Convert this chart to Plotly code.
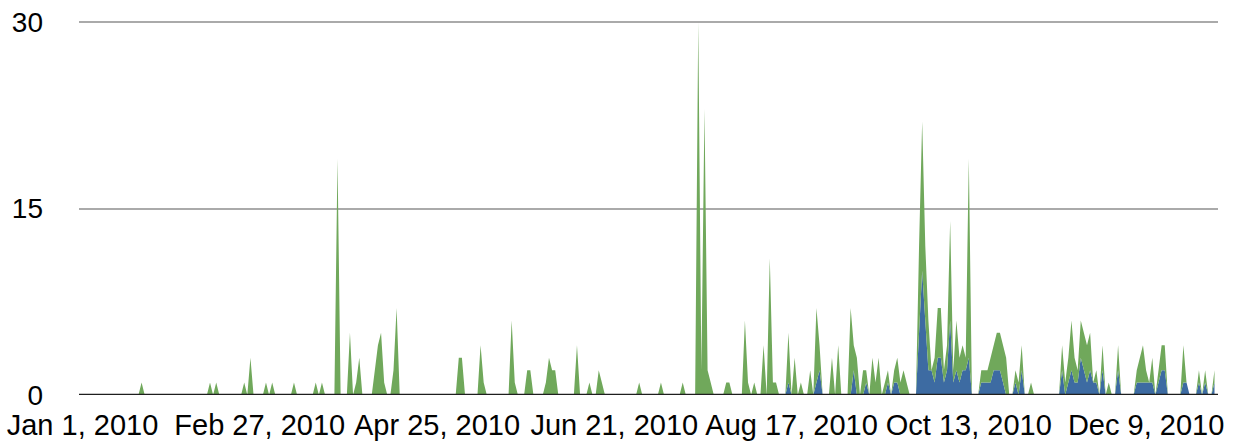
import numpy as np
import pandas as pd
import plotly.graph_objects as go

# ---- data (day offsets from Jan 1, 2010) ----
green_days = [19, 41, 43, 52, 54, 59, 61, 68, 75, 77, 82, 86, 88, 89, 94, 95, 96, 97, 100, 101,
              121, 122, 128, 129, 138, 139, 143, 144, 149, 150, 151, 152, 159, 163, 166, 167,
              179, 186, 193, 198, 199, 200, 201, 202, 207, 208, 213, 214, 216, 219, 221, 222, 223,
              227, 229, 231, 234, 236, 237, 241, 243, 247, 248, 249, 251, 252, 254, 255, 256, 258,
              259, 261, 262, 263, 264, 265, 269, 270, 271, 272, 274, 275, 276, 277, 278, 279, 280,
              281, 282, 283, 284, 285, 289, 290, 291, 292, 293, 294, 295, 296, 297, 300, 301, 302,
              305, 315, 316, 317, 318, 319, 320, 321, 322, 323, 324, 326, 328, 330, 333, 339, 340,
              341, 342, 344, 346, 347, 348, 354, 359, 361, 364]
green_vals = [1, 1, 1, 1, 3, 1, 1, 1, 1, 1, 19, 5, 1, 3, 2, 4, 5, 1, 2, 7,
              3, 3, 4, 1, 6, 1, 2, 2, 1, 3, 2, 2, 4, 1, 2, 1,
              1, 1, 1, 30, 2, 23, 2, 1, 1, 1, 6, 1, 1, 4, 11, 1, 1,
              4, 3, 1, 2, 6, 2, 3, 4, 7, 2, 3, 2, 1, 3, 1, 3, 1,
              1, 1, 2, 1, 2, 1, 7, 12, 6, 4, 2, 4, 4, 1, 2, 8, 1,
              4, 2, 2, 1, 16, 1, 1, 1, 2, 2, 3, 3, 3, 3, 1, 1, 2,
              1, 2, 1, 2, 4, 2, 1, 3, 3, 3, 3, 1, 2, 1, 2, 1, 2,
              3, 1, 2, 1, 2, 2, 3, 1, 1, 1]

blue_days = [227, 236, 237, 248, 252, 259, 261, 262, 269, 270, 271, 272, 273, 274, 275, 276, 277,
             278, 279, 280, 281, 282, 283, 284, 285, 289, 290, 291, 292, 293, 294, 295, 296, 300,
             302, 315, 317, 318, 319, 320, 321, 322, 323, 324, 325, 326, 328, 333, 339, 340, 341,
             342, 343, 344, 346, 347, 348, 354, 355, 359, 361, 364]
blue_vals = [1, 1, 2, 2, 1, 1, 1, 1, 5, 10, 6, 2, 2, 1, 3, 3, 1,
             2, 6, 1, 2, 1, 2, 2, 3, 1, 1, 1, 1, 2, 2, 2, 1, 1,
             2, 2, 1, 2, 1, 1, 3, 2, 1, 2, 1, 1, 2, 2, 1, 1, 1,
             1, 1, 1, 1, 2, 2, 1, 1, 1, 1, 1]

tick_dates = ["2010-01-01", "2010-02-27", "2010-04-25", "2010-06-21", "2010-08-17", "2010-10-13", "2010-12-09"]
tick_text = ["Jan 1, 2010", "Feb 27, 2010", "Apr 25, 2010", "Jun 21, 2010", "Aug 17, 2010", "Oct 13, 2010", "Dec 9, 2010"]
y_ticks = [0, 15, 30]

# ---- build full daily series ----
n_days = 365
dates = pd.date_range("2010-01-01", periods=n_days, freq="D")
green = np.zeros(n_days)
green[green_days] = green_vals
blue = np.zeros(n_days)
blue[blue_days] = blue_vals

fig = go.Figure()
fig.add_trace(go.Scatter(x=dates, y=blue, stackgroup="s", mode="lines",
                         line=dict(width=0, color="#3d6ba2"), fillcolor="#3d6ba2",
                         showlegend=False, hoverinfo="skip"))
fig.add_trace(go.Scatter(x=dates, y=green, stackgroup="s", mode="lines",
                         line=dict(width=0, color="#70a85b"), fillcolor="#70a85b",
                         showlegend=False, hoverinfo="skip"))

fig.update_layout(
    width=1236, height=441,
    margin=dict(l=79, r=18, t=18, b=46, autoexpand=False),
    paper_bgcolor="white", plot_bgcolor="white",
    font=dict(family="Liberation Sans, Arial, sans-serif", color="black"),
    xaxis=dict(type="date", automargin=False,
               range=["2009-12-30 21:00", "2011-01-01 03:00"],
               tickvals=tick_dates, ticktext=tick_text,
               tickfont=dict(size=29), showgrid=False, zeroline=False,
               showline=False, ticks="", ticklabelstandoff=10),
    yaxis=dict(range=[0, 30.322], automargin=False,
               tickvals=y_ticks, ticktext=[str(v) for v in y_ticks],
               tickfont=dict(size=28), showgrid=True, gridcolor="#aaaaaa", gridwidth=2,
               zeroline=False, showline=False, ticks="", ticklabelstandoff=35),
    shapes=[dict(type="line", xref="paper", yref="y", x0=0, x1=1, y0=0, y1=0,
                 line=dict(color="#1e1e1e", width=2.5), layer="above")],
)

fig.write_html("out.html", config={"displayModeBar": False},
               post_script="document.body.style.margin='0';document.body.style.overflow='hidden';")
